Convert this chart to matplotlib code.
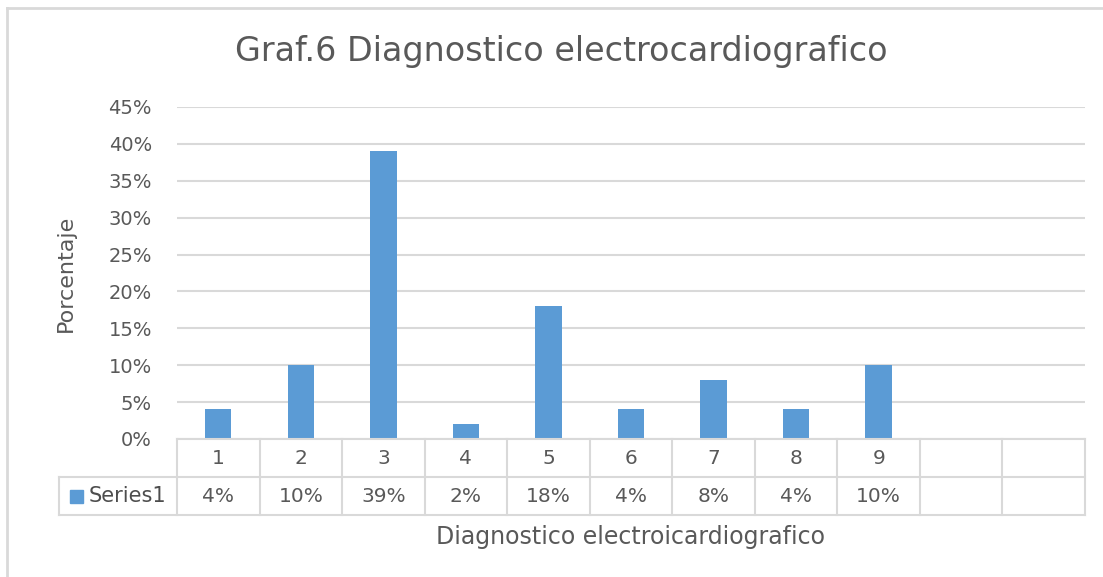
import matplotlib
matplotlib.use("Agg")
import matplotlib.pyplot as plt
from matplotlib.lines import Line2D
from matplotlib.patches import Rectangle

# ---- data ----
categories = ["1", "2", "3", "4", "5", "6", "7", "8", "9", "", ""]
values = [0.04, 0.10, 0.39, 0.02, 0.18, 0.04, 0.08, 0.04, 0.10]
value_labels = ["4%", "10%", "39%", "2%", "18%", "4%", "8%", "4%", "10%", "", ""]
series_name = "Series1"
yticks = [0, 0.05, 0.10, 0.15, 0.20, 0.25, 0.30, 0.35, 0.40, 0.45]
ytick_labels = ["0%", "5%", "10%", "15%", "20%", "25%", "30%", "35%", "40%", "45%"]
title = "Graf.6 Diagnostico electrocardiografico"
xlabel = "Diagnostico electroicardiografico"
ylabel = "Porcentaje"

plt.rcParams['font.family'] = ['DejaVu Sans']
TXT = "#595959"
GRID = "#d9d9d9"
BLUE = "#5b9bd5"

W, H = 1103, 577
fig = plt.figure(figsize=(W / 100, H / 100), dpi=100)
fig.patch.set_facecolor("white")

def fx(px):
    return px / W

def fy(py):
    return 1 - py / H

left, right, top, bottom = 177, 1085, 107, 439
ax = fig.add_axes([fx(left), fy(bottom), fx(right - left), (bottom - top) / H])
n = len(categories)
ax.set_xlim(-0.5, n - 0.5)
ax.set_ylim(0, 0.45)
ax.bar(range(len(values)), values, width=0.32, color=BLUE, zorder=3)
for s in ax.spines.values():
    s.set_visible(False)
ax.set_yticks(yticks)
ax.set_yticklabels(ytick_labels, fontsize=14, color=TXT)
ax.tick_params(axis='y', length=0, pad=18)
ax.set_xticks([])
ax.grid(axis='y', color=GRID, linewidth=1.5, zorder=0)
ax.set_axisbelow(True)

# ---- data table ----
col_w = (right - left) / n
row_h = 38
lw = 1.5
fig.add_artist(Line2D([fx(left), fx(right)], [fy(bottom), fy(bottom)], color=GRID, lw=lw))
fig.add_artist(Line2D([fx(59), fx(right)], [fy(bottom + row_h), fy(bottom + row_h)], color=GRID, lw=lw))
fig.add_artist(Line2D([fx(59), fx(right)], [fy(bottom + 2 * row_h), fy(bottom + 2 * row_h)], color=GRID, lw=lw))
for i in range(n + 1):
    x = left + i * col_w
    fig.add_artist(Line2D([fx(x), fx(x)], [fy(bottom), fy(bottom + 2 * row_h)], color=GRID, lw=lw))
fig.add_artist(Line2D([fx(59), fx(59)], [fy(bottom + row_h), fy(bottom + 2 * row_h)], color=GRID, lw=lw))

for i in range(n):
    cx = left + (i + 0.5) * col_w
    fig.text(fx(cx), fy(bottom + row_h / 2), categories[i], ha='center', va='center',
             fontsize=14.5, color=TXT)
    fig.text(fx(cx), fy(bottom + 1.5 * row_h), value_labels[i], ha='center', va='center',
             fontsize=14.5, color=TXT)

# legend key
fig.add_artist(Rectangle((fx(70), fy(503)), fx(13), 13 / H, color=BLUE))
fig.text(fx(89), fy(bottom + 1.5 * row_h), series_name, ha='left', va='center',
         fontsize=15, color="#4d4d4d")

# ---- titles ----
fig.text(fx(561), fy(52), title, ha='center', va='center', fontsize=24, color=TXT)
fig.text(fx(630), fy(537), xlabel, ha='center', va='center', fontsize=17, color=TXT)
fig.text(fx(66), fy(273), ylabel, ha='center', va='center', fontsize=16, color=TXT, rotation=90)

# outer frame (top and left visible)
fig.add_artist(Line2D([fx(7), fx(1103)], [fy(8), fy(8)], color=GRID, lw=2))
fig.add_artist(Line2D([fx(7), fx(7)], [fy(8), fy(577)], color=GRID, lw=2))

fig.savefig("out.png", dpi=100, facecolor="white")
